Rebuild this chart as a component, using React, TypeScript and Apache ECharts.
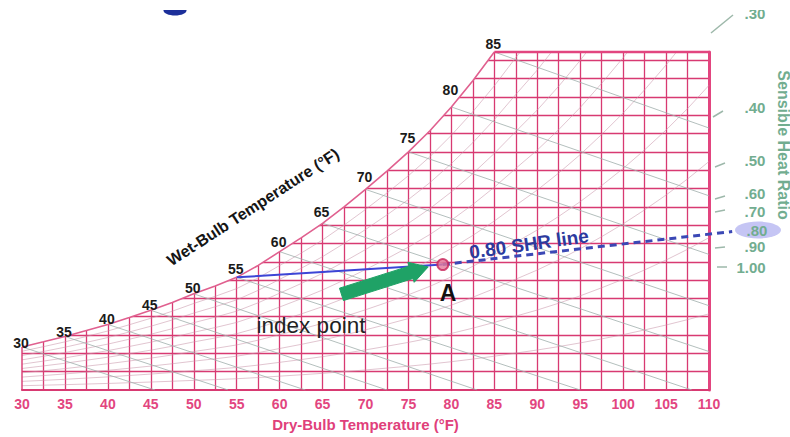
import { useEffect, useRef } from "react";
import * as echarts from "echarts";

// Saturation curve: dry-bulb °F and humidity ratio in grains per lb of dry air
const satTemps = [30, 32.5, 35, 37.5, 40, 42.5, 45, 47.5, 50, 52.5, 55, 57.5, 60, 62.5, 65, 67.5, 70, 72.5, 75, 77.5, 80, 82.5, 85];
const satGrains = [23.5, 26.3, 29.2, 32.5, 35.8, 39.6, 43.5, 47.8, 52.5, 56.8, 61.5, 68, 75.5, 83, 91, 100, 109.5, 119.5, 130, 141.5, 154.5, 168.8, 184.5];
// Saturation above the top of the chart, used to carry the RH curves out to 110 °F
const satTempsHot = [87.5, 90, 92.5, 95, 97.5, 100, 102.5, 105, 107.5, 110];
const satGrainsHot = [201.6, 218.3, 236.9, 257, 279, 302.3, 327.7, 354.8, 384, 415.8];

const rhLevels = [10, 20, 30, 40, 50, 60, 70, 80, 90];

// Wet-bulb lines: start on the saturation curve, end where they leave the chart
const wetBulbTemps = [30, 35, 40, 45, 50, 55, 60, 65, 70, 75, 80, 85];
const wetBulbEndTemps = [45.5, 54, 63, 72.5, 83, 95, 108, 110, 110, 110, 110, 110];
const wetBulbEndGrains = [0, 0, 0, 0, 0, 0, 0, 21, 46, 74, 106, 143];

// Cooling process: coil point on the 55 °F saturation line, room point A, 0.80 SHR line
const coilPoint = [55, 61.5];
const roomPoint = [79, 68.5];
const shrLineEnd = [112.7, 86.5];
const arrowTail = [67.2, 52.2];
const arrowTip = [77.3, 67.2];

const shrLabels = [".30", ".40", ".50", ".60", ".70", ".80", ".90", "1.00"];

const FONT = "'Liberation Sans', Arial, sans-serif";
const PINK = "#d83a72";
const GREEN = "#72ad90";

export default function App() {
  const ref = useRef<HTMLDivElement>(null);

  useEffect(() => {
    if (!ref.current) return;
    const chart = echarts.init(ref.current, null, { renderer: "svg" });

    const satPairs = satTemps.map((t, i) => [t, satGrains[i]]);
    const allTemps = satTemps.concat(satTempsHot);
    const allSat = satGrains.concat(satGrainsHot);

    const rhLines = rhLevels.map((rh) => ({
      coords: allTemps.map((t, i) => [t, (rh / 100) * allSat[i]]),
    }));

    const wbLines = wetBulbTemps.map((t, i) => ({
      coords: [
        [t, satGrains[satTemps.indexOf(t)]],
        [wetBulbEndTemps[i], wetBulbEndGrains[i]],
      ],
    }));

    // SHR protractor scale, drawn to the right of the chart
    const shrY = [13, 107, 160, 193, 211, 230, 246, 267];
    const shrX = [755, 755, 755, 755, 755, 757, 755, 751];
    const shrTicks = [
      [711, 33, 733, 15],
      [713, 117, 723, 111],
      [715, 167, 725, 163],
      [715, 199, 725, 196],
      [715, 212, 725, 210],
      null,
      [715, 248, 725, 247],
      [717, 267, 727, 267],
    ];

    const graphic: any[] = [
      {
        type: "ellipse",
        shape: { cx: 758, cy: 230, rx: 23, ry: 8.5 },
        style: { fill: "rgba(150,150,235,0.55)" },
        z: 10,
      },
      ...shrLabels.map((s, i) => ({
        type: "text",
        x: shrX[i],
        y: shrY[i],
        z: 11,
        style: {
          text: s,
          fill: GREEN,
          fontFamily: FONT,
          fontWeight: "bold",
          fontSize: 15,
          align: "center",
          verticalAlign: "middle",
        },
      })),
      ...shrTicks
        .filter((t) => t)
        .map((t: any) => ({
          type: "line",
          shape: { x1: t[0], y1: t[1], x2: t[2], y2: t[3] },
          style: { stroke: "#9db8aa", lineWidth: 1.5 },
          z: 10,
        })),
      {
        type: "text",
        x: 783,
        y: 145,
        rotation: -Math.PI / 2,
        z: 11,
        style: {
          text: "Sensible Heat Ratio",
          fill: GREEN,
          fontFamily: FONT,
          fontWeight: "bold",
          fontSize: 16,
          align: "center",
          verticalAlign: "middle",
        },
      },
      {
        type: "text",
        x: 253,
        y: 207,
        rotation: (33 * Math.PI) / 180,
        z: 11,
        style: {
          text: "Wet-Bulb Temperature (°F)",
          fill: "#151515",
          fontFamily: FONT,
          fontWeight: "bold",
          fontSize: 16,
          align: "center",
          verticalAlign: "middle",
        },
      },
      {
        type: "text",
        x: 529,
        y: 244,
        rotation: (8 * Math.PI) / 180,
        z: 11,
        style: {
          text: "0.80 SHR line",
          fill: "#2b3a9e",
          fontFamily: FONT,
          fontWeight: "bold",
          fontSize: 19,
          align: "center",
          verticalAlign: "middle",
        },
      },
      {
        type: "text",
        x: 448,
        y: 293,
        z: 11,
        style: {
          text: "A",
          fill: "#111",
          fontFamily: FONT,
          fontWeight: "bold",
          fontSize: 23,
          align: "center",
          verticalAlign: "middle",
        },
      },
      {
        type: "text",
        x: 311,
        y: 325,
        z: 11,
        style: {
          text: "index point",
          fill: "#222",
          fontFamily: FONT,
          fontSize: 22.5,
          align: "center",
          verticalAlign: "middle",
        },
      },
      {
        // lower edge of a blue mark cut off by the top of the figure
        type: "ellipse",
        shape: { cx: 175, cy: 10.5, rx: 11.5, ry: 5 },
        style: { fill: "#1c2f9a" },
        z: 20,
      },
      {
        type: "rect",
        shape: { x: 120, y: 0, width: 670, height: 10 },
        style: { fill: "#ffffff" },
        z: 100,
      },
    ];

    chart.setOption({
      animation: false,
      backgroundColor: "#ffffff",
      grid: { left: 22, right: 81, top: 52, bottom: 40, containLabel: false },
      xAxis: {
        type: "value",
        min: 30,
        max: 110,
        interval: 2.5,
        name: "Dry-Bulb Temperature (°F)",
        nameLocation: "middle",
        nameGap: 27,
        nameTextStyle: { color: "#e0407a", fontFamily: FONT, fontWeight: "bold", fontSize: 15 },
        axisLine: { show: true, lineStyle: { color: PINK, width: 2.2 } },
        axisTick: { show: false },
        axisLabel: {
          margin: 7,
          color: "#e2457f",
          fontFamily: FONT,
          fontWeight: "bold",
          fontSize: 14,
          formatter: (v: number) => (v % 5 === 0 ? String(v) : ""),
        },
        splitLine: {
          show: true,
          showMinLine: false,
          showMaxLine: false,
          lineStyle: { color: PINK, width: 1.3 },
        },
      },
      yAxis: {
        type: "value",
        position: "right",
        min: 0,
        max: 184.5,
        interval: 10,
        axisLine: { show: true, lineStyle: { color: "#e2457f", width: 3 } },
        axisTick: { show: false },
        axisLabel: { show: false },
        splitLine: {
          show: true,
          showMinLine: false,
          showMaxLine: false,
          lineStyle: { color: PINK, width: 1.3 },
        },
      },
      series: [
        {
          // white cover above the saturation curve
          type: "line",
          data: satPairs,
          symbol: "none",
          silent: true,
          lineStyle: { width: 0 },
          areaStyle: { color: "#ffffff", opacity: 1, origin: "end" },
          z: 2,
        },
        {
          type: "lines",
          coordinateSystem: "cartesian2d",
          polyline: true,
          silent: true,
          data: rhLines,
          lineStyle: { color: "rgba(200,150,170,0.55)", width: 1, opacity: 1 },
          z: 3,
        },
        {
          type: "lines",
          coordinateSystem: "cartesian2d",
          silent: true,
          data: wbLines,
          lineStyle: { color: "rgba(160,175,172,0.8)", width: 1, opacity: 1 },
          z: 3,
        },
        {
          type: "line",
          data: satPairs,
          symbol: "none",
          silent: true,
          clip: false,
          lineStyle: { color: "#e0608f", width: 1.6 },
          z: 4,
        },
        {
          // left and top borders
          type: "line",
          data: [[30, 0], [30, satGrains[0]]],
          symbol: "none",
          silent: true,
          clip: false,
          lineStyle: { color: PINK, width: 1.4 },
          z: 4,
        },
        {
          type: "line",
          data: [[85, 184.5], [110, 184.5]],
          symbol: "none",
          silent: true,
          clip: false,
          lineStyle: { color: "#e2457f", width: 2.4 },
          z: 4,
        },
        {
          type: "line",
          data: [coilPoint, roomPoint],
          symbol: "none",
          silent: true,
          lineStyle: { color: "#3d45d6", width: 2 },
          z: 6,
        },
        {
          // 0.80 SHR line, running on past the chart edge to the SHR scale
          type: "custom",
          silent: true,
          clip: false,
          encode: { x: [0, 2], y: [1, 3] },
          data: [[roomPoint[0], roomPoint[1], shrLineEnd[0], shrLineEnd[1]]],
          renderItem: (_p: any, api: any) => {
            const a = api.coord([api.value(0), api.value(1)]);
            const b = api.coord([api.value(2), api.value(3)]);
            return {
              type: "line",
              shape: { x1: a[0], y1: a[1], x2: b[0], y2: b[1] },
              style: { stroke: "#3b48b5", lineWidth: 3, lineDash: [7, 5] },
            };
          },
          z: 6,
        },
        {
          type: "custom",
          silent: true,
          encode: { x: [0, 2], y: [1, 3] },
          data: [[arrowTail[0], arrowTail[1], arrowTip[0], arrowTip[1]]],
          renderItem: (_p: any, api: any) => {
            const a = api.coord([api.value(0), api.value(1)]);
            const b = api.coord([api.value(2), api.value(3)]);
            const dx = b[0] - a[0];
            const dy = b[1] - a[1];
            const len = Math.hypot(dx, dy);
            const ux = dx / len;
            const uy = dy / len;
            const nx = -uy;
            const ny = ux;
            const hs = 6.5;
            const hh = 10.5;
            const hl = 18;
            const bx = b[0] - ux * hl;
            const by = b[1] - uy * hl;
            return {
              type: "polygon",
              shape: {
                points: [
                  [a[0] + nx * hs, a[1] + ny * hs],
                  [bx + nx * hs, by + ny * hs],
                  [bx + nx * hh, by + ny * hh],
                  [b[0], b[1]],
                  [bx - nx * hh, by - ny * hh],
                  [bx - nx * hs, by - ny * hs],
                  [a[0] - nx * hs, a[1] - ny * hs],
                ],
              },
              style: { fill: "#1fa266", stroke: "#1fa266", lineWidth: 1, lineJoin: "round" },
            };
          },
          z: 7,
        },
        {
          type: "scatter",
          data: [roomPoint],
          symbol: "circle",
          symbolSize: 11,
          silent: true,
          itemStyle: { color: "#e57a9b", borderColor: "#c8245a", borderWidth: 2 },
          z: 8,
        },
        {
          // wet-bulb numbers sitting just above the saturation curve
          type: "custom",
          silent: true,
          encode: { x: 0, y: 1 },
          data: wetBulbTemps.map((t) => [t, satGrains[satTemps.indexOf(t)]]),
          renderItem: (_p: any, api: any) => {
            const t = api.value(0);
            const w = api.value(1);
            const p = api.coord([t, w]);
            const idx = satTemps.indexOf(t);
            const hasNext = idx + 1 < satTemps.length;
            let lift = 8;
            if (hasNext) {
              const q = api.coord([satTemps[idx + 1], satGrains[idx + 1]]);
              const slope = (p[1] - q[1]) / (q[0] - p[0]);
              lift = 1 + slope * 13;
            }
            return {
              type: "text",
              x: p[0] - 1,
              y: p[1] - lift,
              style: {
                text: String(t),
                fill: "#1a1a1a",
                fontFamily: FONT,
                fontWeight: "bold",
                fontSize: 14,
                align: "center",
                verticalAlign: "middle",
              },
            };
          },
          z: 9,
        },
      ],
      graphic,
    });

    return () => chart.dispose();
  }, []);

  return (
    <div
      ref={ref}
      style={{ position: "fixed", left: 0, top: 0, width: 790, height: 437, background: "#fff" }}
    />
  );
}
